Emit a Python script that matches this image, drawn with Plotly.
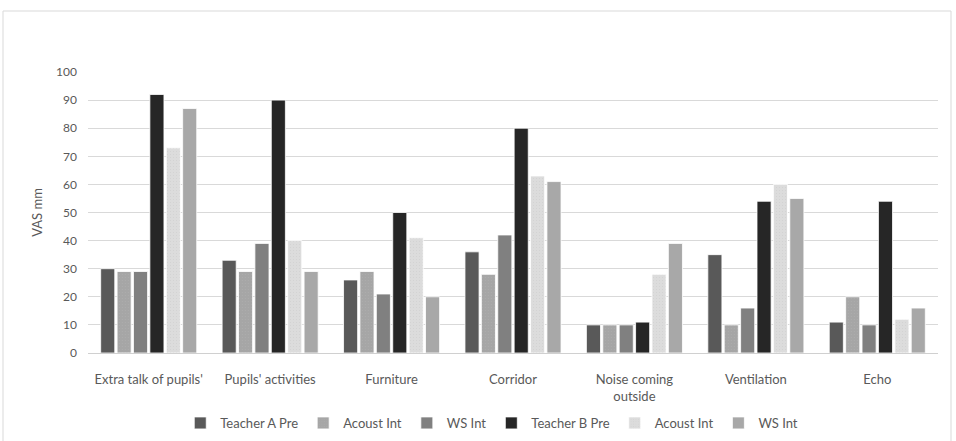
import plotly.graph_objects as go

categories = ["Extra talk of pupils'", "Pupils' activities", "Furniture", "Corridor",
              "Noise coming<br>outside", "Ventilation", "Echo"]

teacher_a_pre = [30, 33, 26, 36, 10, 35, 11]
teacher_a_acoust = [29, 29, 29, 28, 10, 10, 20]
teacher_a_ws = [29, 39, 21, 42, 10, 16, 10]
teacher_b_pre = [92, 90, 50, 80, 11, 54, 54]
teacher_b_acoust = [73, 40, 41, 63, 28, 60, 12]
teacher_b_ws = [87, 29, 20, 61, 39, 55, 16]

series = [
    ("Teacher A Pre", teacher_a_pre, "#595959", None),
    ("Acoust Int", teacher_a_acoust, "#a6a6a6", "#b4b4b4"),
    ("WS Int", teacher_a_ws, "#808080", None),
    ("Teacher B Pre", teacher_b_pre, "#262626", None),
    ("Acoust Int", teacher_b_acoust, "#dcdcdc", "#c6c6c6"),
    ("WS Int", teacher_b_ws, "#a8a8a8", None),
]

fig = go.Figure()
for name, vals, color, dots in series:
    marker = dict(color=color, line=dict(color="#ffffff", width=0.8))
    if dots:
        marker["pattern"] = dict(shape=".", size=3, solidity=0.12, fgcolor=dots, fillmode="overlay")
    fig.add_trace(go.Bar(x=categories, y=vals, name=name, marker=marker))

font_family = "Lato, 'Liberation Sans', sans-serif"

fig.update_layout(
    width=956, height=441,
    margin=dict(l=88, r=18, t=72, b=88, autoexpand=False),
    paper_bgcolor="white", plot_bgcolor="white",
    barmode="group", bargap=0.19, bargroupgap=0.14,
    font=dict(family=font_family, size=12, color="#595959"),
    showlegend=True,
    legend=dict(orientation="h", x=0.475, xanchor="center",
                yref="container", y=1 - 423 / 441, yanchor="middle",
                font=dict(size=13, color="#595959"), itemwidth=30, traceorder="normal"),
    yaxis=dict(range=[0, 100], dtick=10, showgrid=True, gridcolor="#d9d9d9", gridwidth=1,
               zeroline=False, showline=False, ticks="", ticklabelstandoff=10,
               automargin=False,
               tickfont=dict(size=12, color="#595959"),
               title=dict(text="VAS mm", font=dict(size=13, color="#595959"), standoff=10)),
    xaxis=dict(showline=True, linecolor="#d0d0d0", linewidth=1, ticks="",
               ticklabelstandoff=14, automargin=False,
               tickfont=dict(size=13, color="#595959")),
    shapes=[dict(type="rect", xref="paper", yref="paper",
                 x0=(3 - 88) / 850, x1=(951 - 88) / 850,
                 y0=-0.35, y1=(353 - 11) / 281,
                 line=dict(color="#d9d9d9", width=1), fillcolor="rgba(0,0,0,0)", layer="below")],
)

fig.write_html("out.html")
